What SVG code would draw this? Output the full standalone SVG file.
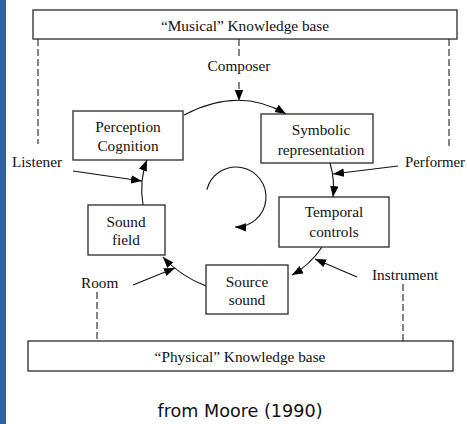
<svg xmlns="http://www.w3.org/2000/svg" width="467" height="424" viewBox="0 0 467 424">
<style>
.box{fill:#fff;stroke:#2a2a2a;stroke-width:1.3}
.t{font-family:"Liberation Serif","Times New Roman",serif;font-size:15.3px;fill:#111;text-anchor:middle}
.tl{font-family:"Liberation Serif","Times New Roman",serif;font-size:15.3px;fill:#111}
.c{fill:none;stroke:#111;stroke-width:1.1}
.d{fill:none;stroke:#222;stroke-width:1.1;stroke-dasharray:7 3}
</style>
<defs>
<marker id="ah" markerUnits="userSpaceOnUse" markerWidth="12" markerHeight="9" refX="11" refY="4.2" orient="auto">
<path d="M0,0 L11,4.2 L0,8.4 z" fill="#000"/>
</marker>
</defs>
<rect x="0" y="0" width="467" height="424" fill="#fff"/>
<rect x="0" y="0" width="6" height="424" fill="#2f6598"/>

<g id="connectors">
<path class="d" d="M38,39 V144"/>
<path class="d" d="M449,39 V148"/>
<path class="d" d="M239,39 V57"/>
<path class="d" d="M239,82 V101" marker-end="url(#ah)"/>
<path class="d" d="M97,292 V341"/>
<path class="d" d="M403,284 V341"/>
<path class="c" d="M184,115 Q239,86 286,114" marker-end="url(#ah)"/>
<path class="c" d="M330,163 Q335,180 333,197" marker-end="url(#ah)"/>
<path class="c" d="M398,166 L333,174" marker-end="url(#ah)"/>
<path class="c" d="M322,247 Q310,265 292,275" marker-end="url(#ah)"/>
<path class="c" d="M357,277 L315,259" marker-end="url(#ah)"/>
<path class="c" d="M206,286 Q180,276 163,257" marker-end="url(#ah)"/>
<path class="c" d="M133,285 L175,268" marker-end="url(#ah)"/>
<path class="c" d="M143,205 Q139,180 147,160" marker-end="url(#ah)"/>
<path class="c" d="M73,171 L142,181" marker-end="url(#ah)"/>
<path class="c" d="M206.9,189.7 A30,30 0 1 1 235,227" marker-end="url(#ah)"/>
</g>

<g id="musical-kb">
<rect class="box" x="33" y="10" width="424" height="29"/>
<text class="t" x="245" y="31">“Musical” Knowledge base</text>
</g>
<g id="composer"><text class="t" x="239" y="71">Composer</text></g>
<g id="perception">
<rect class="box" x="73" y="111" width="110" height="49"/>
<text class="t" x="128" y="132">Perception</text>
<text class="t" x="128" y="151">Cognition</text>
</g>
<g id="symbolic">
<rect class="box" x="261" y="114" width="112" height="49"/>
<text class="t" x="321" y="135">Symbolic</text>
<text class="t" x="321" y="155">representation</text>
</g>
<g id="listener"><text class="tl" x="12" y="167">Listener</text></g>
<g id="performer"><text class="tl" x="405" y="167" textLength="60" lengthAdjust="spacingAndGlyphs">Performer</text></g>
<g id="temporal">
<rect class="box" x="279" y="197" width="110" height="50"/>
<text class="t" x="334" y="217">Temporal</text>
<text class="t" x="334" y="237">controls</text>
</g>
<g id="soundfield">
<rect class="box" x="88" y="205" width="77" height="50"/>
<text class="t" x="126" y="227">Sound</text>
<text class="t" x="126" y="245">field</text>
</g>
<g id="source">
<rect class="box" x="206" y="265" width="82" height="49"/>
<text class="t" x="247" y="287">Source</text>
<text class="t" x="247" y="305">sound</text>
</g>
<g id="room"><text class="tl" x="81" y="288">Room</text></g>
<g id="instrument"><text class="tl" x="372" y="280">Instrument</text></g>
<g id="physical-kb">
<rect class="box" x="28" y="341" width="425" height="30"/>
<text class="t" x="240" y="362">“Physical” Knowledge base</text>
</g>
<text x="240" y="417" text-anchor="middle" font-family="'DejaVu Sans',Verdana,sans-serif" font-size="18.5" textLength="165" lengthAdjust="spacingAndGlyphs" fill="#111">from Moore (1990)</text>
</svg>
